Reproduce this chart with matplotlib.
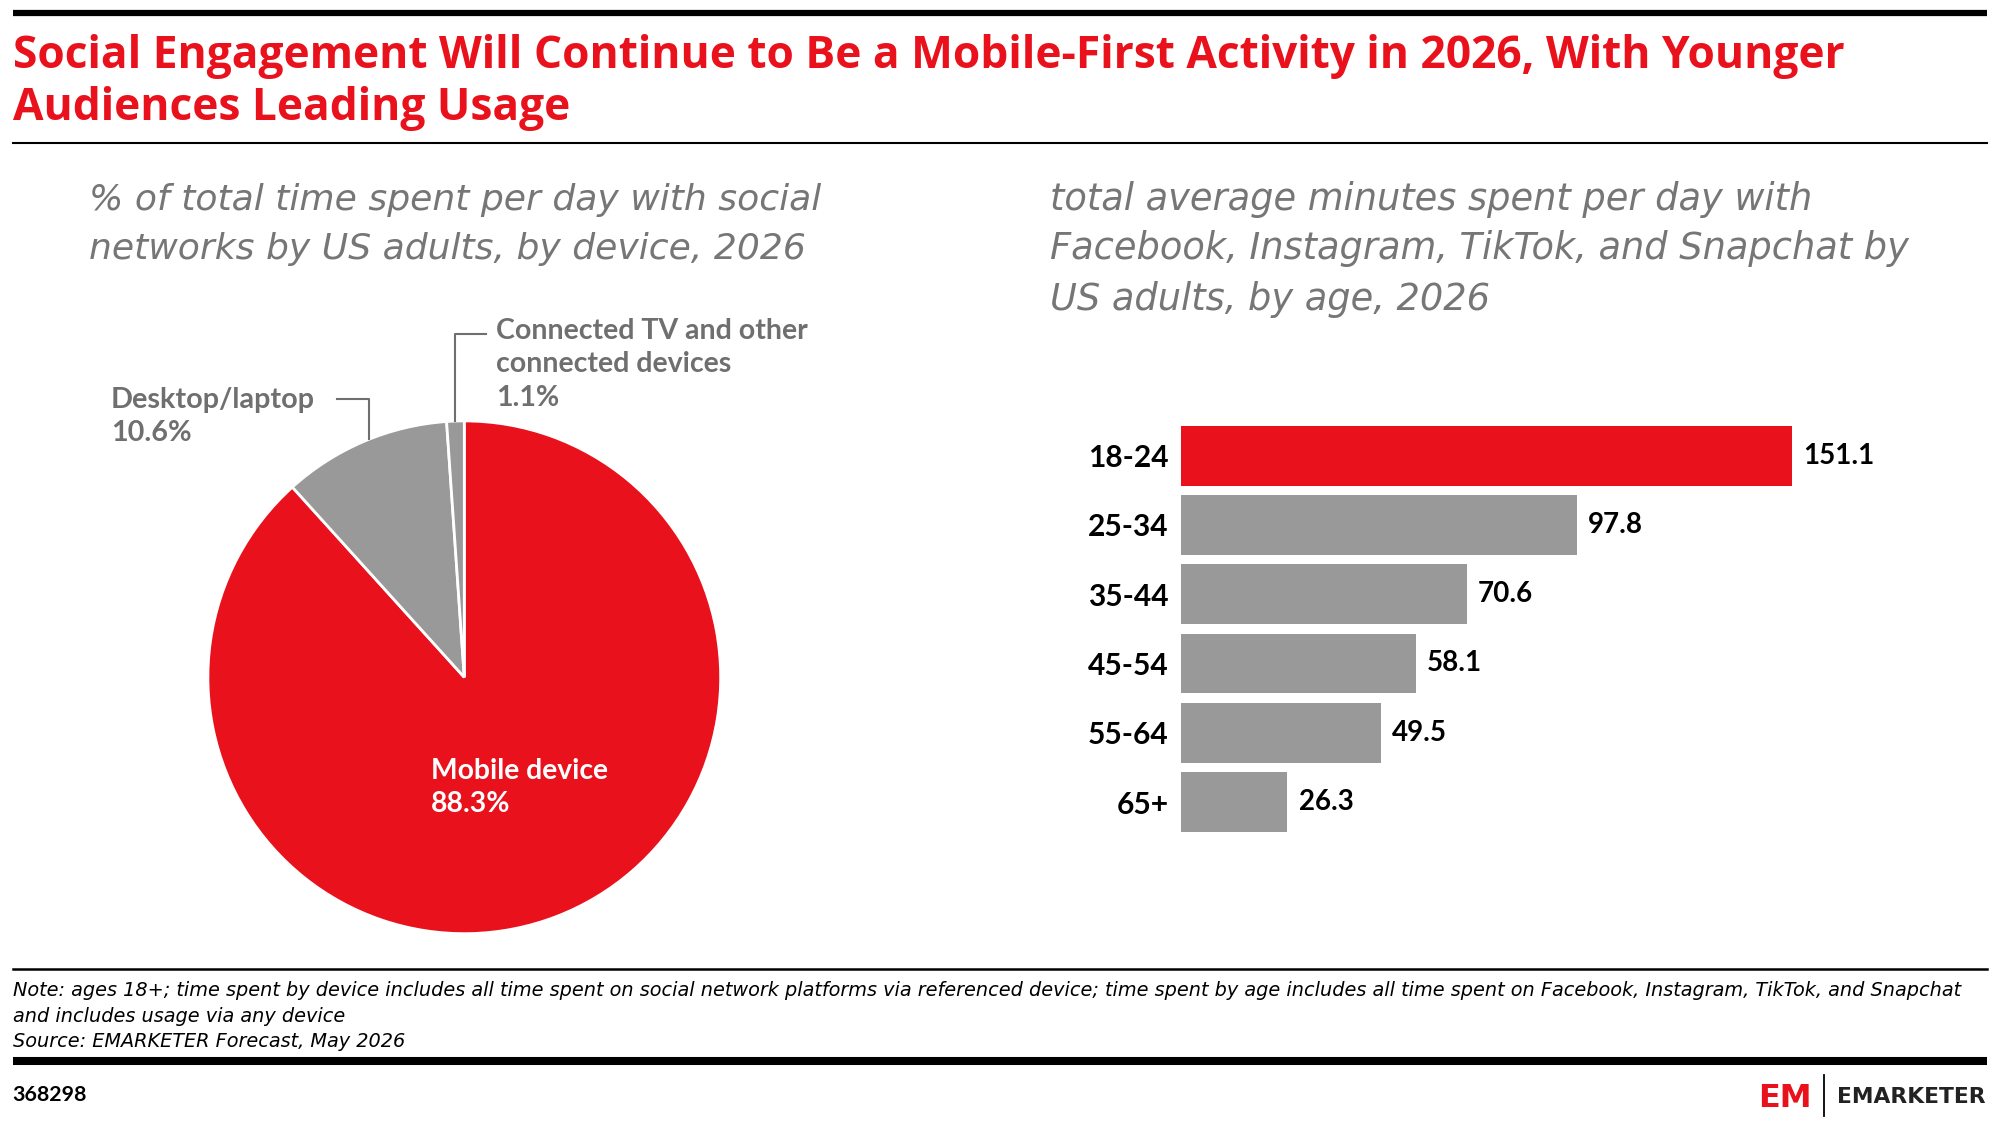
import matplotlib
matplotlib.use("Agg")
import matplotlib.pyplot as plt
from matplotlib.lines import Line2D

# ---------------- data ----------------
devices = ["Mobile device", "Desktop/laptop", "Connected TV and other\nconnected devices"]
device_share = [88.3, 10.6, 1.1]

ages = ["18-24", "25-34", "35-44", "45-54", "55-64", "65+"]
minutes = [151.1, 97.8, 70.6, 58.1, 49.5, 26.3]

title_lines = ["Social Engagement Will Continue to Be a Mobile-First Activity in 2026, With Younger",
               "Audiences Leading Usage"]
sub_left_lines = ["% of total time spent per day with social",
                  "networks by US adults, by device, 2026"]
sub_right_lines = ["total average minutes spent per day with",
                   "Facebook, Instagram, TikTok, and Snapchat by",
                   "US adults, by age, 2026"]
note_lines = ["Note: ages 18+; time spent by device includes all time spent on social network platforms via referenced device; "
              "time spent by age includes all time spent on Facebook, Instagram, TikTok, and Snapchat",
              "and includes usage via any device",
              "Source: EMARKETER Forecast, May 2026"]
chart_id = "368298"

# ---------------- style ----------------
RED = "#E8111C"
GRAY = "#999999"
LABEL_GRAY = "#6f6f6f"
SUB_GRAY = "#767676"
plt.rcParams["font.family"] = ["Lato", "DejaVu Sans"]
TITLE_FONT = ["Open Sans", "DejaVu Sans"]
ITALIC_FONT = ["DejaVu Sans"]
LABEL_FONT = ["Lato", "DejaVu Sans"]

W, H = 1568.0, 882.0          # layout units (y downward)
PX = 2000.0 / W               # output pixels per layout unit
fig = plt.figure(figsize=(20, 11.25), dpi=100)
renderer = fig.canvas.get_renderer()

def fx(x):
    return x / W

def fy(y):
    return 1 - y / H

ov = fig.add_axes([0, 0, 1, 1])
ov.set_xlim(0, W)
ov.set_ylim(H, 0)
ov.axis("off")
ov.set_zorder(5)
ov.patch.set_visible(False)

def block(x, baselines, lines, width, fit_index=0, ha="left", **kw):
    """Draw lines at given baselines; size chosen so line[fit_index] spans `width` layout units."""
    probe = ov.text(0, 0, lines[fit_index], fontsize=20, **kw)
    w = probe.get_window_extent(renderer).width
    probe.remove()
    size = 20 * width * PX / w
    out = []
    for y, s in zip(baselines, lines):
        out.append(ov.text(x, y, s, fontsize=size, va="baseline", ha=ha, **kw))
    return size

# rules
ov.add_line(Line2D([10, 1558], [10, 10], color="black", lw=4.5, solid_capstyle="butt"))
ov.add_line(Line2D([10, 1558], [112, 112], color="black", lw=1.5))
ov.add_line(Line2D([10, 1558], [760, 760], color="black", lw=1.8))
ov.add_line(Line2D([10, 1558], [832, 832], color="black", lw=5.8, solid_capstyle="butt"))

block(10, [53, 94], title_lines, 1437, color=RED, fontweight="bold", family=TITLE_FONT)
block(70, [165, 203], sub_left_lines, 575, color=SUB_GRAY, style="italic", family=ITALIC_FONT)
block(823, [165, 203, 243], sub_right_lines, 674, fit_index=1, color=SUB_GRAY, style="italic",
      family=ITALIC_FONT)
block(10, [781, 801, 821], note_lines, 1525, color="black", style="italic", family=ITALIC_FONT)
block(10, [863], [chart_id], 58, color="black", fontweight="bold", family=LABEL_FONT)

# logo
block(1378, [868], ["EM"], 42, color=RED, fontweight="bold", family=["DejaVu Sans"])
ov.add_line(Line2D([1430, 1430], [843, 875], color="black", lw=1.3))
block(1440, [865], ["EMARKETER"], 116, color="#222222", fontweight="bold", family=["DejaVu Sans"])

# ---------------- pie ----------------
cx, cy, r = 364, 531, 201
pax = fig.add_axes([fx(cx - r), fy(cy + r), 2 * r / W, 2 * r / H])
pax.pie(device_share, colors=[RED, GRAY, GRAY], startangle=90, counterclock=False, radius=1,
        wedgeprops=dict(edgecolor="white", linewidth=2))
pax.set_xlim(-1, 1)
pax.set_ylim(-1, 1)
pax.axis("off")

block(338, [611, 637], [devices[0], f"{device_share[0]}%"], 139, color="white",
      fontweight="bold", family=LABEL_FONT)
block(87, [320, 346], [devices[1], f"{device_share[1]}%"], 160, color=LABEL_GRAY,
      fontweight="bold", family=LABEL_FONT)
block(389, [266, 292, 318], devices[2].split("\n") + [f"{device_share[2]}%"], 244,
      color=LABEL_GRAY, fontweight="bold", family=LABEL_FONT)
ov.add_line(Line2D([264, 289, 289], [313, 313, 344], color=LABEL_GRAY, lw=1.5))
ov.add_line(Line2D([381, 357, 357], [262, 262, 330], color=LABEL_GRAY, lw=1.5))

# ---------------- bars ----------------
bx0, by0, by1 = 926, 330, 656
bw = 600
bax = fig.add_axes([fx(bx0), fy(by1), bw / W, (by1 - by0) / H])
ypos = list(range(len(ages)))
colors = [RED] + [GRAY] * (len(ages) - 1)
bax.barh(ypos, minutes, height=0.865, color=colors)
bax.set_xlim(0, bw / 3.17)
bax.set_ylim(len(ages) - 0.5, -0.5)
bax.set_yticks(ypos)
bax.set_yticklabels(ages, fontsize=21.5, fontweight="bold")
bax.tick_params(axis="y", length=0, pad=9)
bax.set_xticks([])
for s in bax.spines.values():
    s.set_visible(False)
for y, v in zip(ypos, minutes):
    bax.annotate(f"{v}", (v, y), xytext=(8, 0), textcoords="offset points", va="center",
                 ha="left", fontsize=20, fontweight="bold", color="black")

fig.savefig("out.png", dpi=100)
